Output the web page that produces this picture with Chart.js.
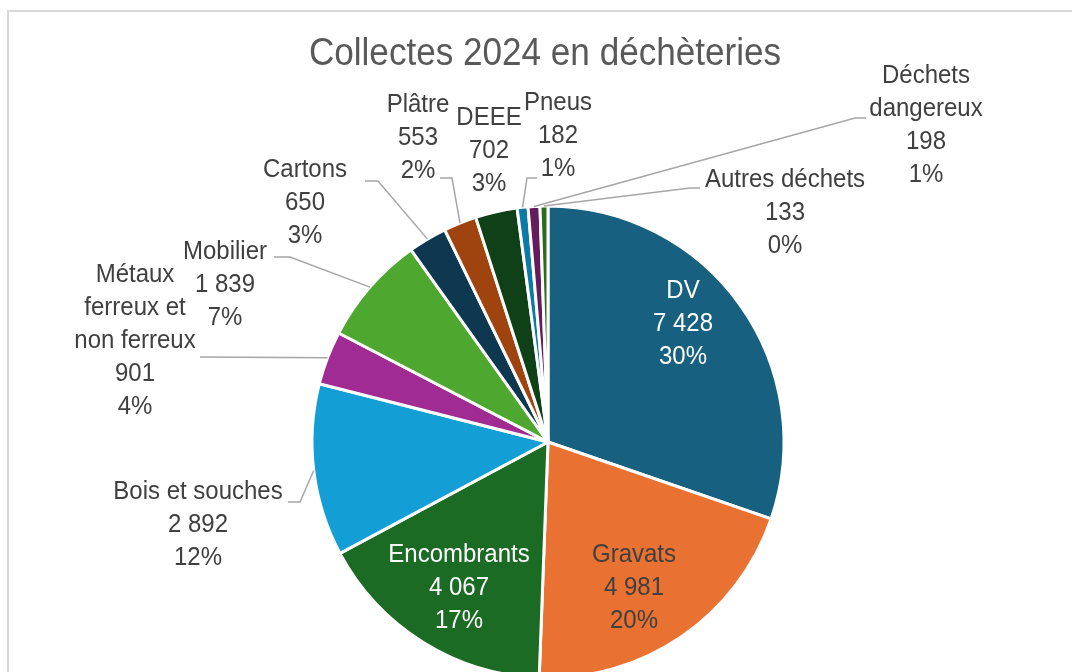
<!DOCTYPE html>
<html>
<head>
<meta charset="utf-8">
<title>Collectes 2024 en déchèteries</title>
<script src="https://cdn.jsdelivr.net/npm/chart.js@4.4.1/dist/chart.umd.min.js"></script>
<style>
  html, body { margin: 0; padding: 0; background: #fff; overflow: hidden; }
  #frame { position: absolute; left: 7px; top: 10px; width: 1100px; height: 700px;
           border-left: 2px solid #d9d9d9; border-top: 2px solid #d9d9d9; }
  #wrap { position: absolute; left: 0; top: 0; width: 1072px; height: 884px; }
</style>
</head>
<body>
<div id="frame"></div>
<div id="wrap"><canvas id="chart" width="1072" height="884"></canvas></div>
<script>
const title = 'Collectes 2024 en déchèteries';
const categories = ['DV', 'Gravats', 'Encombrants', 'Bois et souches', 'Métaux ferreux et non ferreux',
  'Mobilier', 'Cartons', 'Plâtre', 'DEEE', 'Pneus', 'Déchets dangereux', 'Autres déchets'];
const tonnages = [7428, 4981, 4067, 2892, 901, 1839, 650, 553, 702, 182, 198, 133];
const percents = ['30%', '20%', '17%', '12%', '4%', '7%', '3%', '2%', '3%', '1%', '1%', '0%'];
const colors = ['#17607f', '#e97132', '#1b6b24', '#139fd6', '#a02b93', '#4ea72e',
  '#0e384f', '#a0440f', '#0f4017', '#0c7aa6', '#661b5c', '#2f6b1c'];

// police étroite : Liberation Sans compressée horizontalement
const FONT = '"Liberation Sans", Arial, sans-serif';
const TITLE_NARROW = 0.9;
const LABEL_NARROW = 0.96;

// placement des étiquettes (centre x, y de la 1re ligne), lignes de rappel
const labelLayout = [
  { x: 683, y: 291, color: '#ffffff' },
  { x: 634, y: 555, color: '#404040' },
  { x: 459, y: 555, color: '#ffffff' },
  { x: 198, y: 492, leader: [[288, 502], [300, 502]] },
  { x: 135, y: 275, wrap: ['Métaux', 'ferreux et', 'non ferreux'], leader: [[200, 357]] },
  { x: 225, y: 252, leader: [[274, 257], [290, 257]] },
  { x: 305, y: 170, leader: [[365, 181], [378, 181]] },
  { x: 418, y: 105, leader: [[440, 178], [452, 178]] },
  { x: 489, y: 118 },
  { x: 558, y: 103, leader: [[537, 178], [527, 178]] },
  { x: 926, y: 76, wrap: ['Déchets', 'dangereux'], leader: [[866, 118], [855, 118]] },
  { x: 785, y: 180, leader: [[700, 188], [690, 188]] }
];

function fmt(v) {
  return String(v).replace(/\B(?=(\d{3})+(?!\d))/g, ' ');
}

function narrowText(ctx, t, x, y, sx) {
  ctx.save();
  ctx.translate(x, y);
  ctx.scale(sx, 1);
  ctx.fillText(t, 0, 0);
  ctx.restore();
}

const labelsPlugin = {
  id: 'labels',
  afterDraw(chart) {
    const ctx = chart.ctx;
    const arcs = chart.getDatasetMeta(0).data;
    ctx.save();
    ctx.textAlign = 'center';
    ctx.textBaseline = 'middle';

    ctx.fillStyle = '#595959';
    ctx.font = '39px ' + FONT;
    narrowText(ctx, title, 545, 54, TITLE_NARROW);

    // lignes de rappel
    ctx.strokeStyle = '#a6a6a6';
    ctx.lineWidth = 1.5;
    labelLayout.forEach((lay, i) => {
      if (!lay.leader) return;
      const a = arcs[i];
      const mid = (a.startAngle + a.endAngle) / 2;
      const ex = a.x + Math.cos(mid) * a.outerRadius;
      const ey = a.y + Math.sin(mid) * a.outerRadius;
      ctx.beginPath();
      ctx.moveTo(lay.leader[0][0], lay.leader[0][1]);
      for (let k = 1; k < lay.leader.length; k++) ctx.lineTo(lay.leader[k][0], lay.leader[k][1]);
      ctx.lineTo(ex, ey);
      ctx.stroke();
    });

    ctx.font = '25px ' + FONT;
    labelLayout.forEach((lay, i) => {
      const lines = (lay.wrap || [categories[i]]).concat([fmt(tonnages[i]), percents[i]]);
      ctx.fillStyle = lay.color || '#404040';
      lines.forEach((t, k) => narrowText(ctx, t, lay.x, lay.y + k * 33, LABEL_NARROW));
    });
    ctx.restore();
  }
};

new Chart(document.getElementById('chart'), {
  type: 'pie',
  data: {
    labels: categories,
    datasets: [{
      data: tonnages,
      backgroundColor: colors,
      borderColor: '#ffffff',
      borderWidth: 3,
      radius: 236
    }]
  },
  options: {
    responsive: false,
    animation: false,
    layout: { padding: { left: 24 } },
    plugins: {
      legend: { display: false },
      tooltip: { enabled: false }
    }
  },
  plugins: [labelsPlugin]
});
</script>
</body>
</html>
